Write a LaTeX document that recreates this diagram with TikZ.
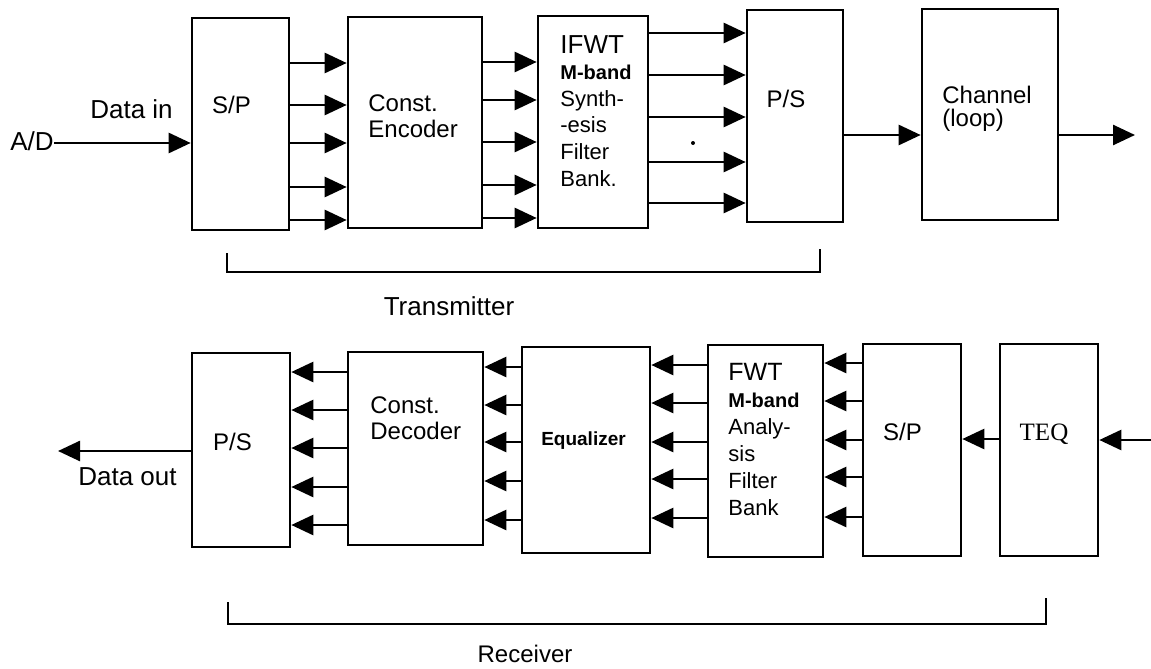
\documentclass[tikz,border=0pt]{standalone}
\usepackage{fontspec}
\setmainfont{Liberation Sans}
\newfontfamily\teqfont{Liberation Serif}
\usetikzlibrary{arrows.meta}
\tikzset{block/.style 2 args = {draw, line width=1.3pt, inner sep=0pt, minimum width=#1*0.5pt, minimum height=#2*0.5pt},
         sig/.style = {line width=1.3pt, -{Triangle[length=11pt,width=10pt]}},
         txt/.style = {inner sep=0pt, anchor=base west, align=left, font=\fontsize{12}{13}\selectfont},
         ctxt/.style = {inner sep=0pt, anchor=base, font=\fontsize{12}{13}\selectfont},
         big/.style = {font=\fontsize{13}{14}\selectfont},
         brace/.style = {line width=1pt}}

\begin{document}
\begin{tikzpicture}[x=0.5pt,y=-0.5pt]
        \useasboundingbox (0,0) rectangle (1151,669);

        % transmitter (text nodes placed at the baseline of their last line)
        \node[block={97}{212}] (tsp) at (240.5,124) {};
        \node[block={134}{211}] (enc) at (415,122.5) {};
        \node[block={110}{212}] (ifwt) at (593,122) {};
        \node[block={96}{212}] (tps) at (795,116) {};
        \node[block={136}{211}] (chan) at (990,114.5) {};

        \node[ctxt] (tsplbl) at (231.5,113) {S/P};
        \node[txt] (enclbl) at (368,137) {Const.\\Encoder};
        \node[txt, font=\fontsize{11}{13.3}\selectfont] (ifwtlbl) at (560,186) {{\fontsize{13}{13.3}\selectfont IFWT}\\{\bfseries\fontsize{10}{13.3}\selectfont M-band}\\Synth-\\-esis\\Filter\\Bank.};
        \node[ctxt] (tpslbl) at (786,107) {P/S};
        \node[txt, font=\fontsize{12}{11.5}\selectfont] (chanlbl) at (942,126) {Channel\\(loop)};

        \node[ctxt, big, anchor=base east] (ad) at (54,150) {A/D};
        \node[ctxt, big] (datain) at (131.5,118) {Data in};
        \draw[sig] (ad.east |- 0,143) -- (tsp.west |- 0,143);

        \foreach \y in {63,105,143,187,220} \draw[sig] (tsp.east |- 0,\y) -- (enc.west |- 0,\y);
        \foreach \y in {62,100,142,185,218} \draw[sig] (enc.east |- 0,\y) -- (ifwt.west |- 0,\y);
        \foreach \y in {33,75,117,162,203} \draw[sig] (ifwt.east |- 0,\y) -- (tps.west |- 0,\y);
        \draw[sig] (tps.east |- 0,135) -- (chan.west |- 0,135);
        \coordinate (chout) at (1135,135);
        \draw[sig] (chan.east |- chout) -- (chout);
        \fill (693,143) circle (1pt);

        \draw[brace] (227,253) -- (227,272) -- (820,272) -- (820,249);
        \node[ctxt, big] (txlbl) at (449,315) {Transmitter};

        % receiver
        \node[block={98}{194}] (rps) at (241,450) {};
        \node[block={135}{193}] (dec) at (415.5,448.5) {};
        \node[block={128}{206}] (equ) at (586,450) {};
        \node[block={115}{212}] (fwt) at (765.5,451) {};
        \node[block={98}{212}] (rsp) at (912,450) {};
        \node[block={98}{212}] (teq) at (1049,450) {};

        \node[ctxt] (rpslbl) at (232.5,450) {P/S};
        \node[txt] (declbl) at (370,439) {Const.\\Decoder};
        \node[ctxt, font=\bfseries\fontsize{9.5}{11}\selectfont] (equlbl) at (583.5,445) {Equalizer};
        \node[txt, font=\fontsize{11}{13.5}\selectfont] (fwtlbl) at (728,515) {{\fontsize{12.5}{13.5}\selectfont FWT}\\{\bfseries\fontsize{10}{13.5}\selectfont M-band}\\Analy-\\sis\\Filter\\Bank};
        \node[ctxt] (rsplbl) at (902.5,440) {S/P};
        \node[ctxt, font=\teqfont\fontsize{12.5}{13}\selectfont] (teqlbl) at (1044,440) {TEQ};

        \coordinate (rin) at (1151,440);
        \draw[sig] (rin) -- (teq.east |- rin);
        \draw[sig] (teq.west |- 0,439) -- (rsp.east |- 0,439);
        \foreach \y in {363,401,440,477,517} \draw[sig] (rsp.west |- 0,\y) -- (fwt.east |- 0,\y);
        \foreach \y in {365,403,442,479,518} \draw[sig] (fwt.west |- 0,\y) -- (equ.east |- 0,\y);
        \foreach \y in {367,405,442,481,520} \draw[sig] (equ.west |- 0,\y) -- (dec.east |- 0,\y);
        \foreach \y in {372,410,448,487,525} \draw[sig] (dec.west |- 0,\y) -- (rps.east |- 0,\y);
        \coordinate (dout) at (58,451);
        \draw[sig] (rps.west |- dout) -- (dout);
        \node[ctxt, big] (dataout) at (127.5,485) {Data out};

        \draw[brace] (228,602) -- (228,624) -- (1046,624) -- (1046,598);
        \node[ctxt] (rxlbl) at (525,662) {Receiver};
\end{tikzpicture}
\end{document}
